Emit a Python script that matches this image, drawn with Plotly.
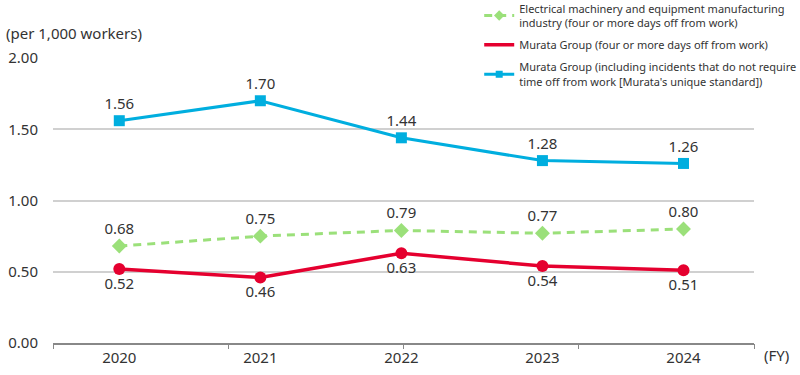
import plotly.graph_objects as go

years = ["2020", "2021", "2022", "2023", "2024"]
industry = [0.68, 0.75, 0.79, 0.77, 0.80]
murata_4days = [0.52, 0.46, 0.63, 0.54, 0.51]
murata_all = [1.56, 1.70, 1.44, 1.28, 1.26]

name_industry = "Electrical machinery and equipment manufacturing<br>industry (four or more days off from work)"
name_murata_4 = "Murata Group (four or more days off from work)"
name_murata_all = "Murata Group (including incidents that do not require<br>time off from work [Murata's unique standard])"

FONT = "Noto Sans"
TXT = "#333333"
BLUE = "#00AEDF"
RED = "#E5002F"
GREEN = "#9BE07A"

xi = list(range(len(years)))
xr = [-0.47, len(years) - 0.5]

series = [
    (industry, name_industry, GREEN, dict(width=3, dash="8px,6px"), "diamond", 11.5, 8, "top center"),
    (murata_4days, name_murata_4, RED, dict(width=3.5), "circle", 12, 0, "bottom center"),
    (murata_all, name_murata_all, BLUE, dict(width=3), "square", 11, 7, "top center"),
]

fig = go.Figure()
for vals, name, col, ln, sym, msize, lsize, tpos in series:
    fig.add_trace(go.Scatter(
        x=xi, y=vals, name=name, mode="lines+markers+text", showlegend=False,
        line=dict(color=col, **ln),
        marker=dict(symbol=sym, size=msize, color=col),
        text=[f"{v:.2f}" for v in vals], textposition=tpos,
        textfont=dict(size=15, color=TXT, family=FONT), cliponaxis=False,
    ))
# legend entries (smaller legend symbols)
for k, (vals, name, col, ln, sym, msize, lsize, tpos) in enumerate(series):
    fig.add_trace(go.Scatter(
        x=[None], y=[None], name=name, legendgroup=f"g{k}",
        mode="lines+markers" if lsize else "lines",
        line=dict(color=col, **ln),
        marker=dict(symbol=sym, size=lsize, color=col),
    ))
# invisible trace to carry the secondary x-axis (tick marks between categories)
fig.add_trace(go.Scatter(x=[xr[0]], y=[0], xaxis="x2", mode="markers",
                         marker=dict(opacity=0), showlegend=False, hoverinfo="skip"))

step = (xr[1] - xr[0]) / 4
fig.update_layout(
    width=800, height=375,
    margin=dict(l=53, r=46, t=58, b=32, autoexpand=False),
    paper_bgcolor="white", plot_bgcolor="white",
    font=dict(family=FONT, color=TXT, size=15),
    showlegend=True,
    legend=dict(
        x=0.608, y=1.222, xanchor="left", yanchor="top",
        bgcolor="white", font=dict(size=11, color=TXT, family=FONT),
        itemwidth=30, tracegroupgap=4, traceorder="grouped",
    ),
    xaxis=dict(
        range=xr, tickvals=xi, ticktext=years, showgrid=False,
        showline=True, linecolor="#888888", linewidth=1.5,
        ticks="", tickfont=dict(size=15, color=TXT), zeroline=False,
    ),
    xaxis2=dict(
        range=xr, overlaying="x", anchor="y", side="bottom",
        tickvals=[xr[0] + step * k for k in range(5)], ticktext=[""] * 5,
        ticks="outside", ticklen=5, tickwidth=1.2, tickcolor="#888888",
        showgrid=False, showline=False, zeroline=False,
    ),
    yaxis=dict(
        range=[0, 2.0], tickvals=[0, 0.5, 1.0, 1.5, 2.0],
        ticktext=["0.00", "0.50", "1.00", "1.50", "2.00"],
        showgrid=True, gridcolor="#D0D0D0", gridwidth=1.5,
        zeroline=False, showline=False, ticks="",
        tickfont=dict(size=15, color=TXT), ticklabelstandoff=14,
    ),
    annotations=[
        dict(text="(per 1,000 workers)", xref="paper", yref="paper",
             x=-0.07, y=1.088, xanchor="left", yanchor="middle",
             showarrow=False, font=dict(size=15, color=TXT)),
        dict(text="(FY)", xref="paper", yref="paper",
             x=1.011, y=-0.042, xanchor="left", yanchor="middle",
             showarrow=False, font=dict(size=15, color=TXT)),
    ],
)

fig.write_html("out.html", config={"displayModeBar": False},
               post_script="document.body.style.margin='0';")
